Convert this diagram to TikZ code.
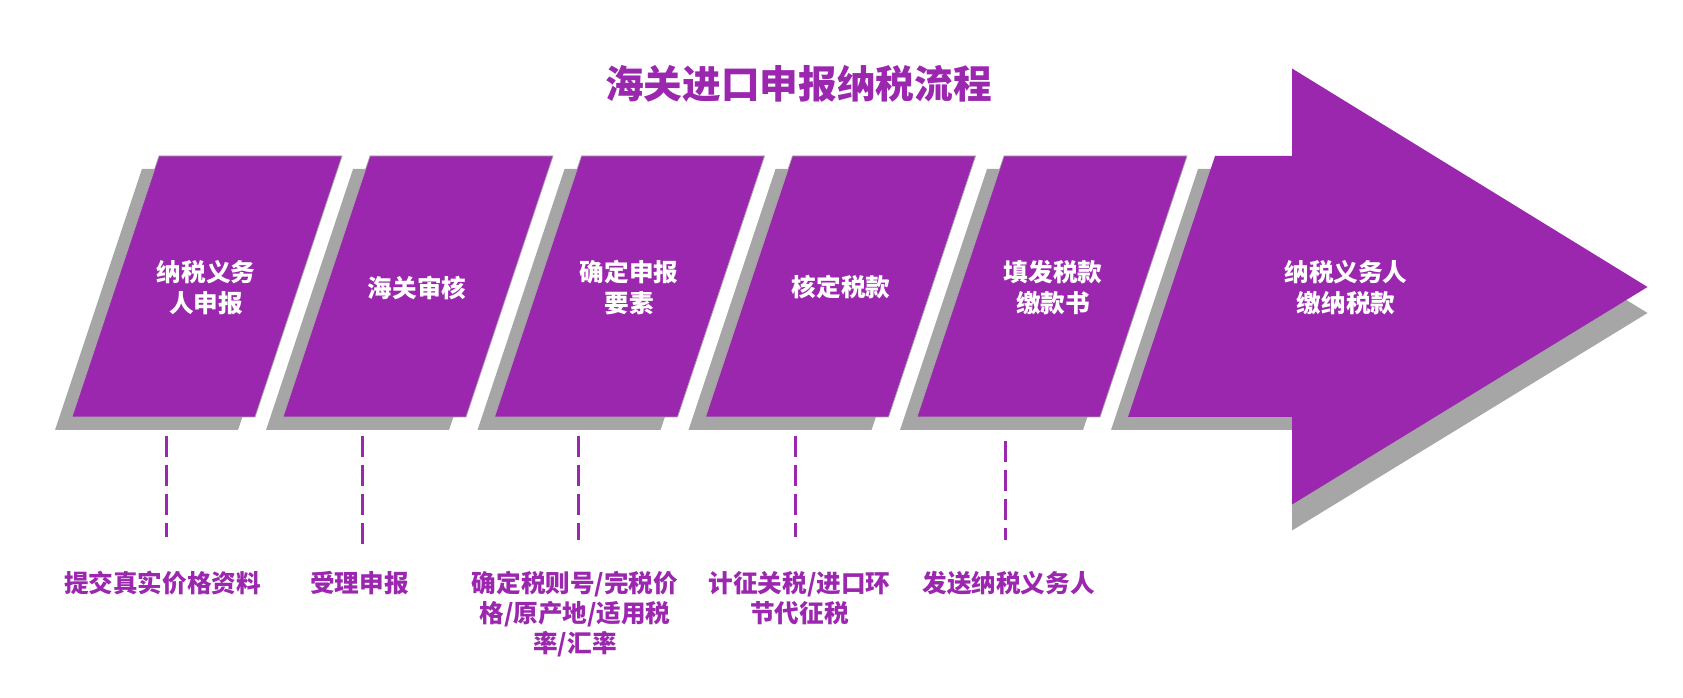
\documentclass[tikz,border=0pt]{standalone}
\usepackage{fontspec}
\setmainfont{Noto Sans CJK SC}

\definecolor{stepviolet}{HTML}{9B27AF}
\definecolor{stepshade}{HTML}{A6A6A6}

\tikzset{
  stepbox/.style={fill=stepviolet, draw=gray!70, line width=0.4pt},
  shadebox/.style={fill=stepshade, shift={(-0.34,-0.26)}},
  steptext/.style={text=white, align=center,
    font=\fontsize{14}{18}\selectfont\bfseries},
  notetext/.style={text=stepviolet, align=center, anchor=north, inner sep=0pt,
    font=\fontsize{14}{17}\selectfont\bfseries},
  dashline/.style={draw=stepviolet, line width=2pt,
    dash pattern=on 0.42cm off 0.16cm},
}

\begin{document}
\begin{tikzpicture}

\useasboundingbox (0,0) rectangle (33.66,13.94);

% Title
\node[text=stepviolet, font=\fontsize{22}{26}\selectfont\bfseries] (title)
  at (15.97,12.27) {海关进口申报纳税流程};

% Shadows
\fill[shadebox] (3.18,10.82) -- (6.84,10.82) -- (5.10,5.60) -- (1.44,5.60) -- cycle;
\fill[shadebox] (7.40,10.82) -- (11.06,10.82) -- (9.32,5.60) -- (5.66,5.60) -- cycle;
\fill[shadebox] (11.63,10.82) -- (15.29,10.82) -- (13.55,5.60) -- (9.89,5.60) -- cycle;
\fill[shadebox] (15.85,10.82) -- (19.51,10.82) -- (17.77,5.60) -- (14.11,5.60) -- cycle;
\fill[shadebox] (20.08,10.82) -- (23.74,10.82) -- (22.00,5.60) -- (18.34,5.60) -- cycle;
% arrow shadow: shaft, then head
\fill[stepshade] (23.96,10.56) -- (25.84,10.56) -- (25.84,5.34) -- (22.22,5.34) -- cycle;
\fill[stepshade] (25.84,12.05) -- (32.95,7.68) -- (25.84,3.33) -- cycle;

% Steps
\filldraw[stepbox] (3.18,10.82) -- (6.84,10.82) -- (5.10,5.60) -- (1.44,5.60) -- cycle;
\filldraw[stepbox] (7.40,10.82) -- (11.06,10.82) -- (9.32,5.60) -- (5.66,5.60) -- cycle;
\filldraw[stepbox] (11.63,10.82) -- (15.29,10.82) -- (13.55,5.60) -- (9.89,5.60) -- cycle;
\filldraw[stepbox] (15.85,10.82) -- (19.51,10.82) -- (17.77,5.60) -- (14.11,5.60) -- cycle;
\filldraw[stepbox] (20.08,10.82) -- (23.74,10.82) -- (22.00,5.60) -- (18.34,5.60) -- cycle;

% Last step: big arrow
\fill[stepviolet] (24.30,10.82) -- (25.84,10.82) -- (25.84,12.57) -- (32.95,8.20)
  -- (25.84,3.85) -- (25.84,5.60) -- (22.56,5.60) -- cycle;

% Step texts
\node[steptext] (s1) at (4.12,8.19) {纳税义务\\人申报};
\node[steptext] (s2) at (8.34,8.19) {海关审核};
\node[steptext] (s3) at (12.58,8.19) {确定申报\\要素};
\node[steptext] (s4) at (16.82,8.19) {核定税款};
\node[steptext] (s5) at (21.06,8.19) {填发税款\\缴款书};
\node[steptext] (s6) at (26.92,8.19) {纳税义务人\\缴纳税款};

% Notes
\node[notetext] (n1) at (3.25,2.52) {提交真实价格资料};
\node[notetext] (n2) at (7.19,2.52) {受理申报};
\node[notetext] (n3) at (11.50,2.52) {确定税则号/完税价\\格/原产地/适用税\\率/汇率};
\node[notetext] (n4) at (15.99,2.52) {计征关税/进口环\\节代征税};
\node[notetext] (n5) at (20.17,2.52) {发送纳税义务人};

% Dashed links
\coordinate (d1) at (3.33,5.22);
\coordinate (d2) at (7.25,5.22);
\coordinate (d3) at (11.57,5.22);
\coordinate (d4) at (15.91,5.22);
\coordinate (d5) at (20.11,5.12);

\draw[dashline] (d1) -- (d1 |- 0,3.20);
\draw[dashline] (d2) -- (d2 |- 0,3.06);
\draw[dashline] (d3) -- (d3 |- 0,3.14);
\draw[dashline] (d4) -- (d4 |- 0,3.20);
\draw[dashline] (d5) -- (d5 |- 0,3.14);

\end{tikzpicture}
\end{document}
